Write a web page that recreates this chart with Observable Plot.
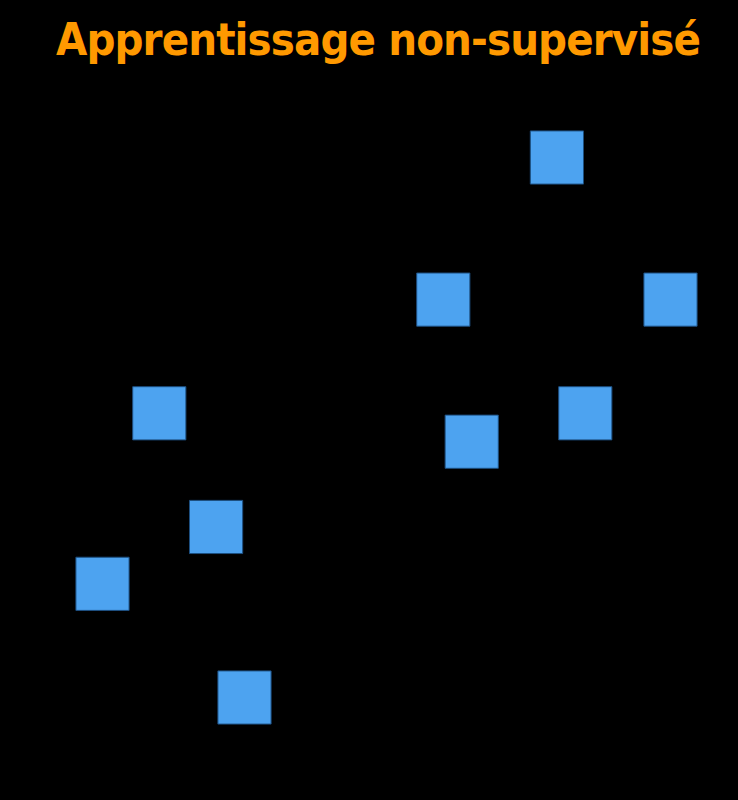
<!DOCTYPE html>
<html>
<head>
<meta charset="utf-8">
<script src="https://cdn.jsdelivr.net/npm/d3@7"></script>
<script src="https://cdn.jsdelivr.net/npm/@observablehq/plot@0.6"></script>
<style>
  html, body { margin: 0; padding: 0; background: #000; }
  #wrap { width: 738px; height: 800px; background: #000; overflow: hidden; }
  #title { height: 80px; margin: 0; box-sizing: border-box; padding-top: 14px;
    text-align: center; padding-left: 18px;
    font-family: "DejaVu Sans Condensed", "DejaVu Sans", sans-serif; font-weight: bold;
    font-size: 45px; line-height: 52px; color: #ff9900; white-space: nowrap; letter-spacing: -0.9px; }
</style>
</head>
<body>
<div id="wrap">
  <div id="title">Apprentissage non-supervisé</div>
  <div id="chart"></div>
</div>
<script>
const titleText = "Apprentissage non-supervisé";
const xs = [16, 12, 20, 2, 17, 13, 4, 0, 5];
const ys = [19, 14, 14, 10, 10, 9, 6, 4, 0];
const points = xs.map((x, i) => ({x, y: ys[i]}));

const chart = Plot.plot({
  width: 738,
  height: 720,
  margin: 0,
  style: {background: "#000"},
  x: {domain: [0, 20], range: [102, 670], axis: null},
  y: {domain: [0, 19], range: [617, 77], axis: null},
  marks: [
    Plot.dot(points, {x: "x", y: "y", symbol: "square", r: 30, fill: "#4da3f0", stroke: "#1d4f80", strokeWidth: 1})
  ]
});
document.getElementById("chart").appendChild(chart);
</script>
</body>
</html>
